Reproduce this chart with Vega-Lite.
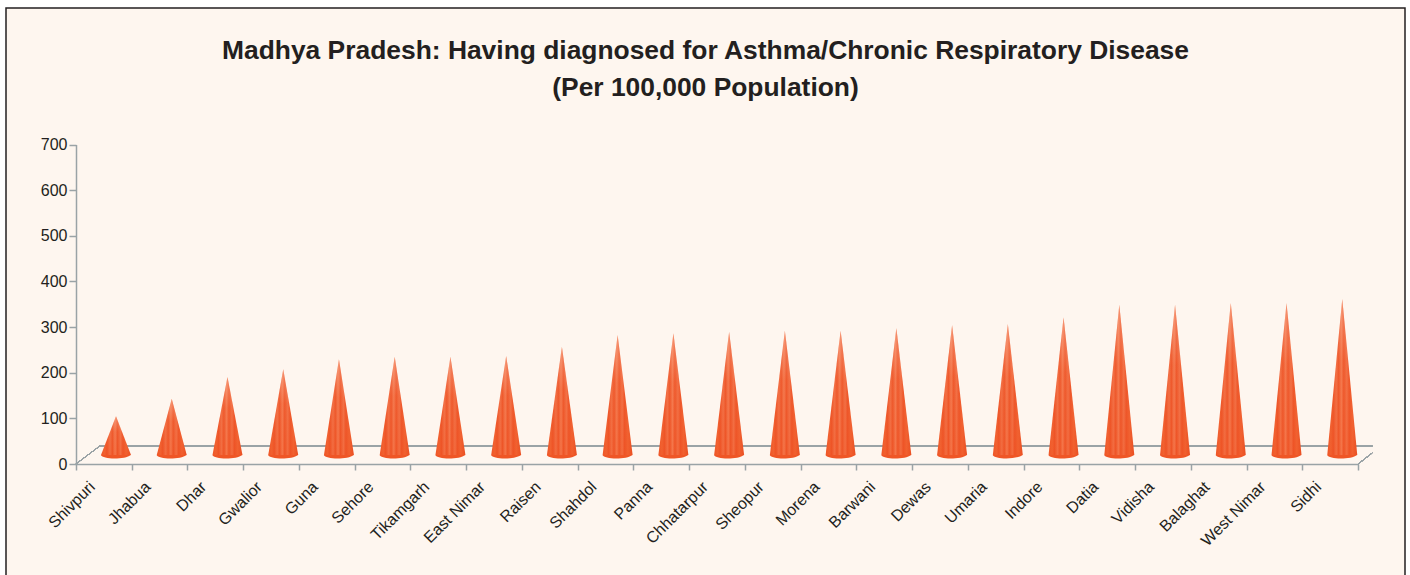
{"$schema":"https://vega.github.io/schema/vega-lite/v6.json","autosize":{"type":"none"},"padding":{"left":6,"top":8,"right":5,"bottom":0},"width":1399,"height":575,"background":"#ffffff","view":{"fill":"#fef6ef","stroke":"#231f20","strokeWidth":1.5},"title":{"text":["Madhya Pradesh: Having diagnosed for Asthma/Chronic Respiratory  Disease","(Per 100,000 Population)"],"orient":"top","anchor":"middle","frame":"group","offset":-93,"font":"Liberation Sans","fontSize":26.4,"fontWeight":"bold","color":"#231f20","lineHeight":37},"data":{"values":[{"district":"Shivpuri","base":0,"value":85},{"district":"Jhabua","base":0,"value":123},{"district":"Dhar","base":0,"value":171},{"district":"Gwalior","base":0,"value":188},{"district":"Guna","base":0,"value":210},{"district":"Sehore","base":0,"value":215},{"district":"Tikamgarh","base":0,"value":215},{"district":"East Nimar","base":0,"value":217},{"district":"Raisen","base":0,"value":237},{"district":"Shahdol","base":0,"value":263},{"district":"Panna","base":0,"value":267},{"district":"Chhatarpur","base":0,"value":270},{"district":"Sheopur","base":0,"value":272},{"district":"Morena","base":0,"value":272},{"district":"Barwani","base":0,"value":278},{"district":"Dewas","base":0,"value":285},{"district":"Umaria","base":0,"value":287},{"district":"Indore","base":0,"value":302},{"district":"Datia","base":0,"value":329},{"district":"Vidisha","base":0,"value":329},{"district":"Balaghat","base":0,"value":333},{"district":"West Nimar","base":0,"value":333},{"district":"Sidhi","base":0,"value":342}]},"encoding":{"x":{"field":"district","type":"nominal","sort":null,"title":null,"scale":{"type":"band","domain":["Shivpuri","Jhabua","Dhar","Gwalior","Guna","Sehore","Tikamgarh","East Nimar","Raisen","Shahdol","Panna","Chhatarpur","Sheopur","Morena","Barwani","Dewas","Umaria","Indore","Datia","Vidisha","Balaghat","West Nimar","Sidhi"],"range":[70,1352],"paddingInner":0,"paddingOuter":0},"axis":{"orient":"bottom","offset":-119,"labelAngle":-45,"labelAlign":"right","labelBaseline":"middle","labelOffset":-12,"labelPadding":14,"labelFont":"Liberation Sans","labelFontSize":16,"labelColor":"#231f20","domainColor":"#9aa3a6","domainWidth":1.5,"tickColor":"#9aa3a6","tickWidth":1.5,"tickSize":6,"tickBand":"extent","grid":false,"labelOverlap":false}},"y":{"title":null}},"layer":[{"mark":{"type":"rule","stroke":"#9aa3a6","strokeWidth":1.5,"xOffset":-4,"x2Offset":42},"encoding":{"x":{"datum":"Shivpuri","type":"nominal"},"x2":{"datum":"Sidhi"},"y":{"datum":39.5,"type":"quantitative","title":null,"scale":{"domain":[0,700],"range":[456,136.5]},"axis":{"orient":"left","offset":-70,"values":[0,100,200,300,400,500,600,700],"labelFont":"Liberation Sans","labelFontSize":16,"labelColor":"#231f20","domainColor":"#9aa3a6","domainWidth":1.5,"tickColor":"#9aa3a6","tickWidth":1.5,"tickSize":7,"labelPadding":2,"grid":false}}}},{"mark":{"type":"rule","stroke":"#9aa3a6","strokeWidth":1,"xOffset":-28,"x2Offset":-4},"encoding":{"x":{"datum":"Shivpuri","type":"nominal"},"x2":{"datum":"Shivpuri"},"y":{"datum":0,"type":"quantitative","title":null},"y2":{"datum":39.5}}},{"mark":{"type":"rule","stroke":"#9aa3a6","strokeWidth":1,"xOffset":28,"x2Offset":42},"encoding":{"x":{"datum":"Sidhi","type":"nominal"},"x2":{"datum":"Sidhi"},"y":{"datum":0,"type":"quantitative","title":null},"y2":{"datum":24}}},{"mark":{"type":"point","filled":true,"fill":"#ef5626","opacity":1,"size":900,"shape":"M-1,0 C-0.9,0.3 0.6,0.32 1,0 Z","xOffset":12,"yOffset":-9},"encoding":{"y":{"field":"base","type":"quantitative","title":null}}},{"transform":[{"fold":["base","value","base"],"as":["part","level"]},{"window":[{"op":"row_number","as":"corner"}],"groupby":["district"]}],"mark":{"type":"area","opacity":1,"yOffset":-9,"y2Offset":-9,"fill":{"gradient":"linear","x1":0,"y1":0,"x2":1,"y2":0,"stops":[{"offset":0,"color":"#ee5526"},{"offset":0.12,"color":"#f1602f"},{"offset":0.2,"color":"#ee5325"},{"offset":0.3,"color":"#f26c40"},{"offset":0.38,"color":"#ee5426"},{"offset":0.47,"color":"#f47549"},{"offset":0.55,"color":"#ee5426"},{"offset":0.65,"color":"#f26c40"},{"offset":0.73,"color":"#ee5325"},{"offset":0.84,"color":"#f1602f"},{"offset":1,"color":"#e94f22"}]}},"encoding":{"xOffset":{"field":"corner","type":"ordinal","scale":{"type":"point","range":[25,55],"padding":0},"legend":null},"y":{"field":"level","type":"quantitative","stack":null,"title":null},"y2":{"field":"base"},"detail":{"field":"district"}}},{"transform":[{"fold":["base","value","base"],"as":["part","level"]},{"window":[{"op":"row_number","as":"corner"}],"groupby":["district"]}],"mark":{"type":"area","opacity":1,"yOffset":-9,"y2Offset":-9,"fill":{"gradient":"linear","x1":0,"y1":0,"x2":0,"y2":1,"stops":[{"offset":0,"color":"rgba(254,240,230,0.3)"},{"offset":0.4,"color":"rgba(254,240,230,0.04)"},{"offset":1,"color":"rgba(254,240,230,0)"}]}},"encoding":{"xOffset":{"field":"corner","type":"ordinal","scale":{"type":"point","range":[25,55],"padding":0},"legend":null},"y":{"field":"level","type":"quantitative","stack":null,"title":null},"y2":{"field":"base"},"detail":{"field":"district"}}}]}
